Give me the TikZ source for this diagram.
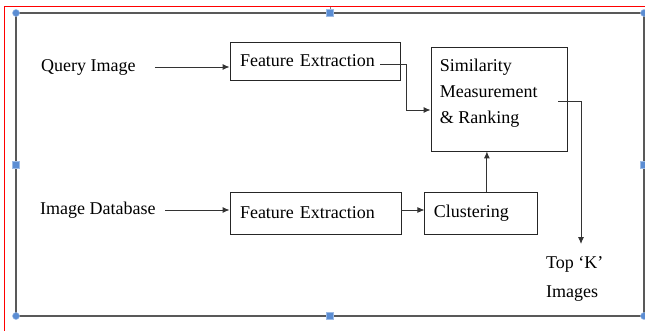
\documentclass[tikz,border=0pt]{standalone}
\usepackage{fontspec}
\setmainfont{Liberation Serif}
\usepackage{xcolor}
\usetikzlibrary{arrows.meta, positioning, calc}
\definecolor{handleblue}{RGB}{91,141,211}

\begin{document}
\begin{tikzpicture}[
      x=1pt, y=-1pt,
      box/.style={
        rectangle, draw=black!85, line width=0.9pt, inner xsep=10pt,
        inner ysep=0pt, align=left, font=\fontsize{18}{26}\selectfont},
      txt/.style={inner sep=0pt, align=left, font=\fontsize{18}{26}\selectfont},
      arr/.style={-{Latex[length=7pt,width=6pt]}, black!80, line width=0.9pt},
      grip/.style={fill=handleblue, draw=handleblue!60!white, line width=0.5pt}
    ]
    \useasboundingbox (0,0) rectangle (645,331);

    % --- Frame and selection grips ---
    \draw[red, line width=1pt] (4,331) -- (4,7) -- (645,7);
    \draw[black!50, line width=0.6pt] (330,7) -- (330,13);
    \draw[black!65, line width=1.5pt] (16,13) rectangle (644,316);
    \foreach \hx/\hy in {16/13, 644/13, 16/316, 644/316}
      \filldraw[grip] (\hx,\hy) circle (3.5pt);
    \foreach \hx/\hy in {330/13, 330/316, 16/164.5, 644/164.5}
      \filldraw[grip] ([xshift=-3.5pt,yshift=-3.5pt]\hx,\hy) rectangle ++(7pt,7pt);

    % --- Inputs ---
    \node[txt, anchor=west] (query) at (41,67)  {Query Image};
    \node[txt, anchor=west] (imgdb) at (40,210) {Image Database};

    % --- Blocks ---
    \node[box, text width=150pt, minimum height=38pt] (fe1) at (315,61)    {Feature Extraction};
    \node[box, text width=151pt, minimum height=42pt] (fe2) at (315.5,213) {Feature Extraction};
    \node[box, inner xsep=9pt, text width=95pt, minimum height=42pt,
          right=23pt of fe2] (clus) {Clustering};
    \node[box, text width=116pt, minimum height=104pt] (sim) at (499,99) {};
    \node[txt, anchor=north west] (simtxt) at ([xshift=9pt,yshift=-12.5pt]sim.north west)
      {Similarity\\Measurement\\\& Ranking};

    % --- Output ---
    \coordinate (outtip) at (581,244);
    \node[txt, anchor=north west, font=\fontsize{18}{29}\selectfont] (topk) at (546,256)
      {Top ‘K’\\Images};

    % --- Arrows ---
    \draw[arr, shorten <=19pt] (query.east) -- (query.east -| fe1.west);
    \draw[arr, shorten <=9.5pt] (imgdb.east) -- (imgdb.east -| fe2.west);
    \draw[arr] ([yshift=3pt]fe2.east) -- ([yshift=3pt]clus.west);
    \draw[arr] ([xshift=-20pt,yshift=-3pt]fe1.east)
      -| ([xshift=-24pt,yshift=-11pt]sim.west) -- ([yshift=-11pt]sim.west);
    \coordinate (clustop) at ([xshift=5.5pt]clus.north);
    \draw[arr] (clustop) -- (clustop |- sim.south);
    \draw[arr] ([xshift=-9pt,yshift=-2pt]sim.east) -| (outtip);
  \end{tikzpicture}
\end{document}
